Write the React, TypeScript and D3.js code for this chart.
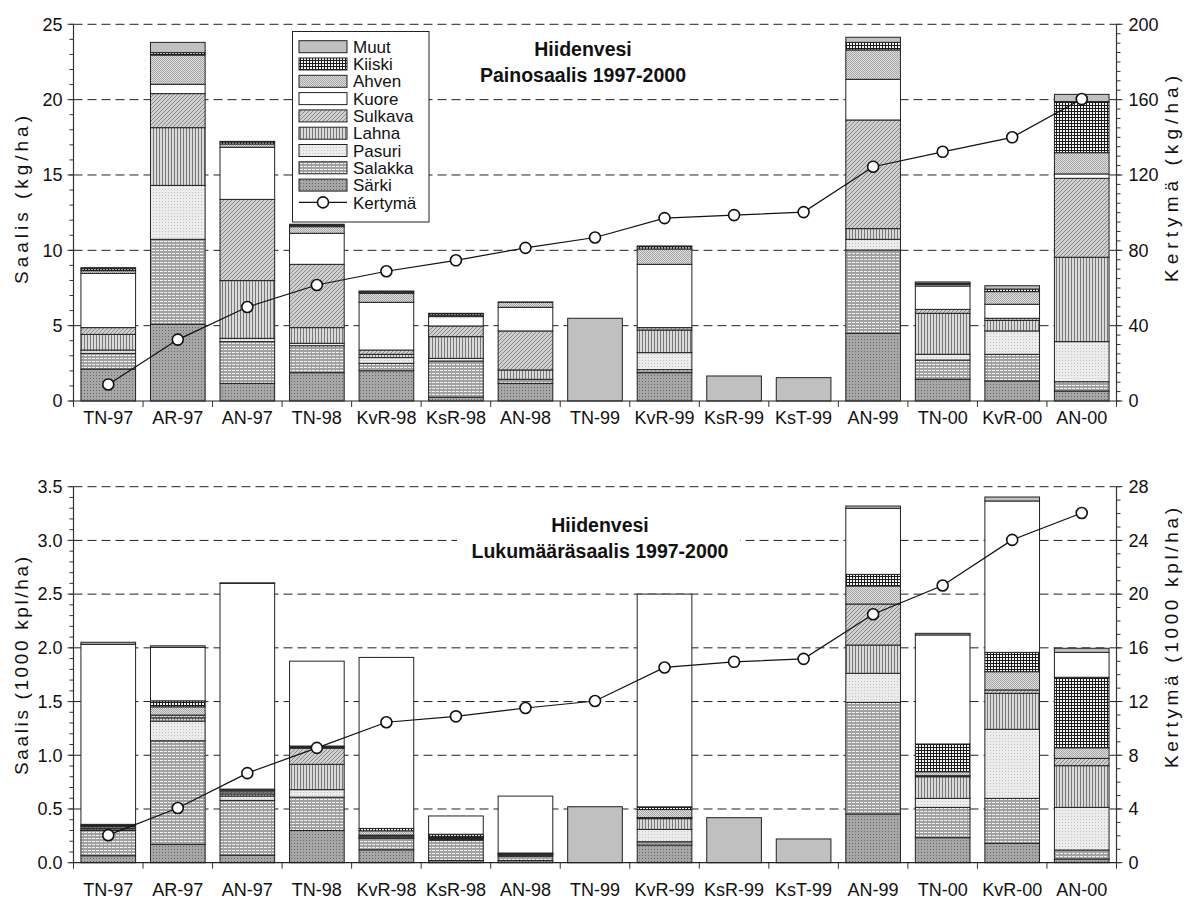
import React from 'react';
import * as d3 from 'd3';

// Sampling sites / years
const categories = ['TN-97', 'AR-97', 'AN-97', 'TN-98', 'KvR-98', 'KsR-98', 'AN-98', 'TN-99', 'KvR-99', 'KsR-99', 'KsT-99', 'AN-99', 'TN-00', 'KvR-00', 'AN-00'];

// Weight catch, kg/ha
const sarkiKg = [2.12, 5.09, 1.17, 1.88, 2.01, 0.25, 1.17, 0, 1.88, 0, 0, 4.49, 1.44, 1.33, 0.66];
const salakkaKg = [1.04, 5.64, 2.77, 1.79, 0.49, 2.4, 0.27, 0, 0.2, 0, 0, 5.53, 1.28, 1.77, 0.62];
const pasuriKg = [0.22, 3.58, 0.22, 0.16, 0.38, 0.18, 0, 0, 1.13, 0, 0, 0.71, 0.38, 1.55, 2.66];
const lahnaKg = [1.04, 3.83, 3.83, 1.04, 0.22, 1.44, 0.62, 0, 1.5, 0, 0, 0.71, 2.72, 0.7, 5.6];
const sulkavaKg = [0.45, 2.26, 5.39, 4.2, 0.28, 0.71, 2.59, 0, 0.16, 0, 0, 7.21, 0.26, 0.14, 5.24];
const kuoreKg = [3.6, 0.62, 3.46, 2.06, 3.17, 0.62, 1.57, 0, 4.2, 0, 0, 2.7, 1.55, 0.93, 0.29];
const ahvenKg = [0.18, 1.94, 0.22, 0.44, 0.6, 0.1, 0.33, 0, 1.02, 0, 0, 1.95, 0.11, 0.84, 1.41];
const kiiskiKg = [0.13, 0.16, 0.13, 0.09, 0.08, 0.1, 0, 0, 0.15, 0, 0, 0.5, 0.07, 0.17, 3.39];
const muutKg = [0.07, 0.68, 0.04, 0.07, 0.07, 0.02, 0.02, 5.49, 0.05, 1.66, 1.55, 0.34, 0.09, 0.22, 0.48];
const kertymaKg = [8.8, 32.6, 49.9, 61.6, 68.9, 74.7, 81.3, 86.8, 97.1, 98.7, 100.3, 124.4, 132.3, 140.0, 160.3];

// Number catch, 1000 ind./ha
const sarkiN = [0.065, 0.17, 0.07, 0.3, 0.12, 0.02, 0.02, 0, 0.165, 0, 0, 0.453, 0.233, 0.18, 0.034];
const salakkaN = [0.235, 0.965, 0.51, 0.31, 0.107, 0.19, 0.04, 0, 0.03, 0, 0, 1.04, 0.282, 0.419, 0.084];
const pasuriN = [0.005, 0.183, 0.04, 0.07, 0.005, 0.005, 0, 0, 0.115, 0, 0, 0.27, 0.084, 0.643, 0.397];
const lahnaN = [0.015, 0.03, 0.02, 0.236, 0.015, 0.01, 0.01, 0, 0.1, 0, 0, 0.263, 0.201, 0.335, 0.388];
const sulkavaN = [0.015, 0.026, 0.02, 0.15, 0.01, 0.01, 0.01, 0, 0.01, 0, 0, 0.382, 0.01, 0.031, 0.068];
const ahvenN = [0.01, 0.077, 0.015, 0.01, 0.04, 0.01, 0.005, 0, 0.075, 0, 0, 0.168, 0.037, 0.17, 0.099];
const kiiskiN = [0.012, 0.056, 0.01, 0.01, 0.022, 0.02, 0.005, 0, 0.025, 0, 0, 0.108, 0.258, 0.18, 0.656];
const kuoreN = [1.676, 0.497, 1.915, 0.79, 1.592, 0.17, 0.53, 0, 1.98, 0, 0, 0.615, 1.015, 1.409, 0.232];
const muutN = [0.019, 0.015, 0.005, 0, 0, 0, 0, 0.521, 0, 0.419, 0.221, 0.021, 0.015, 0.037, 0.038];
const kertymaN = [2.05, 4.07, 6.67, 8.55, 10.46, 10.9, 11.52, 12.04, 14.54, 14.96, 15.18, 18.5, 20.64, 24.04, 26.04];

const weightSeries: Record<string, number[]> = {
  'Särki': sarkiKg, 'Salakka': salakkaKg, 'Pasuri': pasuriKg, 'Lahna': lahnaKg, 'Sulkava': sulkavaKg,
  'Kuore': kuoreKg, 'Ahven': ahvenKg, 'Kiiski': kiiskiKg, 'Muut': muutKg,
};
const countSeries: Record<string, number[]> = {
  'Särki': sarkiN, 'Salakka': salakkaN, 'Pasuri': pasuriN, 'Lahna': lahnaN, 'Sulkava': sulkavaN,
  'Ahven': ahvenN, 'Kiiski': kiiskiN, 'Kuore': kuoreN, 'Muut': muutN,
};
const weightKeys = ['Särki', 'Salakka', 'Pasuri', 'Lahna', 'Sulkava', 'Kuore', 'Ahven', 'Kiiski', 'Muut'];
const countKeys = ['Särki', 'Salakka', 'Pasuri', 'Lahna', 'Sulkava', 'Ahven', 'Kiiski', 'Kuore', 'Muut'];
const legendKeys = ['Muut', 'Kiiski', 'Ahven', 'Kuore', 'Sulkava', 'Lahna', 'Pasuri', 'Salakka', 'Särki'];

const fills: Record<string, string> = {
  'Särki': 'url(#p-sarki)',
  'Salakka': 'url(#p-salakka)',
  'Pasuri': 'url(#p-pasuri)',
  'Lahna': 'url(#p-lahna)',
  'Sulkava': 'url(#p-sulkava)',
  'Kuore': '#ffffff',
  'Ahven': 'url(#p-ahven)',
  'Kiiski': 'url(#p-kiiski)',
  'Muut': '#c0c0c0',
};

const FONT = '"Liberation Sans", Arial, sans-serif';
const X0 = 73.5;
const X1 = 1116.5;

const x = d3.scaleBand<string>().domain(categories).range([X0, X1]).paddingInner(0.214).paddingOuter(0.107);

type AxisTitle = { text: string; start: number; length: number };

type ChartProps = {
  top: number;
  bottom: number;
  yMax: number;
  yStep: number;
  yMinor: number;
  yFmt: (v: number) => string;
  rMax: number;
  rStep: number;
  rMinor: number;
  series: Record<string, number[]>;
  keys: string[];
  cumulative: number[];
  titles: string[];
  titleY: number[];
  titleX: number;
  titleBox?: [number, number, number, number];
  leftTitle: AxisTitle;
  rightTitle: AxisTitle;
  labelY: number;
  legend?: boolean;
};

function Chart(p: ChartProps) {
  const y = d3.scaleLinear().domain([0, p.yMax]).range([p.bottom, p.top]);
  const yr = d3.scaleLinear().domain([0, p.rMax]).range([p.bottom, p.top]);
  const rows = categories.map((c, i) => {
    const r: Record<string, number | string> = { cat: c };
    p.keys.forEach((k) => { r[k] = p.series[k][i]; });
    return r;
  });
  const stacked = d3.stack<Record<string, number | string>>().keys(p.keys)(rows as any);
  const majors = d3.range(0, p.yMax + 1e-9, p.yStep);
  const minors = d3.range(0, p.yMax + 1e-9, p.yMinor);
  const rMajors = d3.range(0, p.rMax + 1e-9, p.rStep);
  const rMinors = d3.range(0, p.rMax + 1e-9, p.rMinor);
  const cx = (c: string) => (x(c) as number) + x.bandwidth() / 2;
  const line = d3.line<number>().x((_, i) => cx(categories[i])).y((v) => yr(v));
  const step = x.step();

  return (
    <g>
      {/* dashed gridlines */}
      {majors.filter((v) => v > 0).map((v) => (
        <line key={'g' + v} x1={X0} x2={X1} y1={y(v)} y2={y(v)} stroke="#222" strokeWidth={1} strokeDasharray="9 5" />
      ))}
      {p.titleBox && (
        <rect x={p.titleBox[0]} y={p.titleBox[1]} width={p.titleBox[2]} height={p.titleBox[3]} fill="#fff" />
      )}
      {p.titles.map((t, i) => (
        <text key={t} x={p.titleX} y={p.titleY[i]} textAnchor="middle" fontFamily={FONT} fontWeight="bold" fontSize={19.5} fill="#111">{t}</text>
      ))}
      {/* stacked bars */}
      {stacked.map((layer) => (
        <g key={layer.key}>
          {layer.map((d, i) => {
            const h = y(d[0]) - y(d[1]);
            if (h <= 0) return null;
            return (
              <rect key={i} x={x(categories[i])} y={y(d[1])} width={x.bandwidth()} height={h}
                fill={fills[layer.key]} stroke="#222" strokeWidth={1} />
            );
          })}
        </g>
      ))}
      {/* axes */}
      <line x1={X0} x2={X0} y1={p.top} y2={p.bottom} stroke="#333" strokeWidth={1.2} />
      <line x1={X1} x2={X1} y1={p.top} y2={p.bottom} stroke="#333" strokeWidth={1.2} />
      <line x1={X0} x2={X1} y1={p.bottom} y2={p.bottom} stroke="#222" strokeWidth={1.2} />
      {minors.map((v) => (
        <line key={'lm' + v} x1={X0 - 4} x2={X0} y1={y(v)} y2={y(v)} stroke="#333" />
      ))}
      {majors.map((v) => (
        <g key={'lM' + v}>
          <line x1={X0 - 6} x2={X0} y1={y(v)} y2={y(v)} stroke="#333" />
          <text x={X0 - 11} y={y(v)} dy="0.35em" textAnchor="end" fontFamily={FONT} fontSize={18} fill="#111">{p.yFmt(v)}</text>
        </g>
      ))}
      {rMinors.map((v) => (
        <line key={'rm' + v} x1={X1} x2={X1 + 4} y1={yr(v)} y2={yr(v)} stroke="#333" />
      ))}
      {rMajors.map((v) => (
        <g key={'rM' + v}>
          <line x1={X1} x2={X1 + 6} y1={yr(v)} y2={yr(v)} stroke="#333" />
          <text x={X1 + 12} y={yr(v)} dy="0.35em" textAnchor="start" fontFamily={FONT} fontSize={18} fill="#111">{String(v)}</text>
        </g>
      ))}
      {d3.range(categories.length + 1).map((i) => (
        <line key={'xt' + i} x1={X0 + i * step} x2={X0 + i * step} y1={p.bottom} y2={p.bottom + 6} stroke="#333" />
      ))}
      {categories.map((c) => (
        <text key={'xl' + c} x={cx(c)} y={p.labelY} textAnchor="middle" fontFamily={FONT} fontSize={18} fill="#111">{c}</text>
      ))}
      <text transform={`translate(21,${p.leftTitle.start}) rotate(-90)`} textAnchor="start" dy="0.35em"
        textLength={p.leftTitle.length} lengthAdjust="spacing" fontFamily={FONT} fontSize={19} fill="#111">{p.leftTitle.text}</text>
      <text transform={`translate(1171,${p.rightTitle.start}) rotate(-90)`} textAnchor="start" dy="0.35em"
        textLength={p.rightTitle.length} lengthAdjust="spacing" fontFamily={FONT} fontSize={19} fill="#111">{p.rightTitle.text}</text>
      {/* cumulative line */}
      <path d={line(p.cumulative) || ''} fill="none" stroke="#111" strokeWidth={1.2} />
      {p.cumulative.map((v, i) => (
        <circle key={'c' + i} cx={cx(categories[i])} cy={yr(v)} r={5.5} fill="#fff" stroke="#111" strokeWidth={1.6} />
      ))}
      {p.legend && <Legend />}
    </g>
  );
}

function Legend() {
  const lx = 292.5;
  const ly = 31.5;
  const rowH = 17.3;
  const firstY = 46.7;
  return (
    <g>
      <rect x={lx} y={ly} width={136.5} height={190.5} fill="#fff" stroke="#222" strokeWidth={1} />
      {legendKeys.map((k, i) => (
        <g key={k}>
          <rect x={299} y={firstY + i * rowH - 6} width={48} height={12} fill={fills[k]} stroke="#222" strokeWidth={1} />
          <text x={353} y={firstY + i * rowH} dy="0.36em" fontFamily={FONT} fontSize={17} fill="#111">{k}</text>
        </g>
      ))}
      <g>
        <line x1={299} x2={347} y1={firstY + 9 * rowH} y2={firstY + 9 * rowH} stroke="#111" strokeWidth={1.2} />
        <circle cx={323} cy={firstY + 9 * rowH} r={5.5} fill="#fff" stroke="#111" strokeWidth={1.6} />
        <text x={353} y={firstY + 9 * rowH} dy="0.36em" fontFamily={FONT} fontSize={17} fill="#111">Kertymä</text>
      </g>
    </g>
  );
}

function Patterns() {
  return (
    <defs>
      <pattern id="p-sarki" width={3} height={3} patternUnits="userSpaceOnUse">
        <rect width={3} height={3} fill="#a6a6a6" />
        <rect x={0} y={0} width={1} height={1} fill="#6a6a6a" />
      </pattern>
      <pattern id="p-salakka" width={4} height={3} patternUnits="userSpaceOnUse">
        <rect width={4} height={3} fill="#a0a0a0" />
        <rect x={0} y={1} width={3} height={1} fill="#f2f2f2" />
      </pattern>
      <pattern id="p-pasuri" width={3} height={3} patternUnits="userSpaceOnUse">
        <rect width={3} height={3} fill="#ececec" />
        <rect x={0} y={0} width={1} height={1} fill="#c4c4c4" />
      </pattern>
      <pattern id="p-lahna" width={3} height={3} patternUnits="userSpaceOnUse">
        <rect width={3} height={3} fill="#dadada" />
        <rect x={0} y={0} width={1} height={3} fill="#787878" />
      </pattern>
      <pattern id="p-sulkava" width={4} height={4} patternUnits="userSpaceOnUse">
        <rect width={4} height={4} fill="#cfcfcf" />
        <path d="M0,4 L4,0 M-1,1 L1,-1 M3,5 L5,3" stroke="#8a8a8a" strokeWidth={1} />
      </pattern>
      <pattern id="p-ahven" width={2} height={2} patternUnits="userSpaceOnUse">
        <rect width={2} height={2} fill="#e0e0e0" />
        <rect x={0} y={0} width={1} height={1} fill="#a4a4a4" />
        <rect x={1} y={1} width={1} height={1} fill="#a4a4a4" />
      </pattern>
      <pattern id="p-kiiski" width={3} height={3} patternUnits="userSpaceOnUse">
        <rect width={3} height={3} fill="#1a1a1a" />
        <rect x={1} y={1} width={2} height={2} fill="#f4f4f4" />
      </pattern>
    </defs>
  );
}

export default function App() {
  return (
    <svg width={1184} height={900} style={{ position: 'absolute', left: 0, top: 0, background: '#fff' }}>
      <Patterns />
      <rect width={1184} height={900} fill="#fff" />
      <Chart
        top={24.3} bottom={401} yMax={25} yStep={5} yMinor={1} yFmt={(v) => String(v)}
        rMax={200} rStep={40} rMinor={5}
        series={weightSeries} keys={weightKeys} cumulative={kertymaKg}
        titles={['Hiidenvesi', 'Painosaalis 1997-2000']} titleY={[56, 82]} titleX={583}
        leftTitle={{ text: 'Saalis (kg/ha)', start: 284, length: 168 }}
        rightTitle={{ text: 'Kertymä (kg/ha)', start: 282, length: 206 }}
        labelY={424} legend
      />
      <Chart
        top={486.7} bottom={862.7} yMax={3.5} yStep={0.5} yMinor={0.1} yFmt={(v) => v.toFixed(1)}
        rMax={28} rStep={4} rMinor={1}
        series={countSeries} keys={countKeys} cumulative={kertymaN}
        titles={['Hiidenvesi', 'Lukumääräsaalis 1997-2000']} titleY={[532, 558]} titleX={600}
        titleBox={[457, 512, 283, 52]}
        leftTitle={{ text: 'Saalis (1000 kpl/ha)', start: 775, length: 218 }}
        rightTitle={{ text: 'Kertymä (1000 kpl/ha)', start: 768, length: 260 }}
        labelY={896}
      />
    </svg>
  );
}
